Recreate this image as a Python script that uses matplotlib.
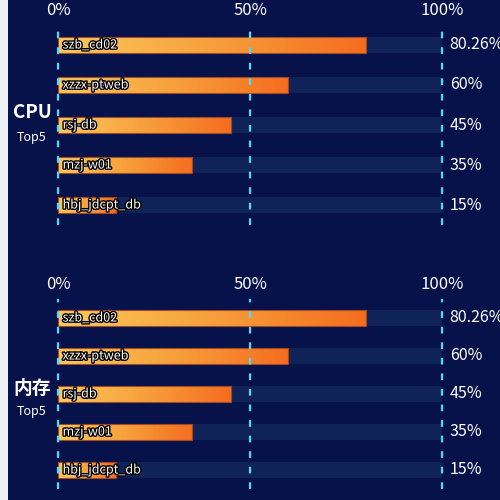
import numpy as np
import matplotlib
matplotlib.use("Agg")
import matplotlib.pyplot as plt
import matplotlib.patheffects as pe
from matplotlib.patches import Rectangle

plt.rcParams['font.family'] = ['Noto Sans CJK SC', 'DejaVu Sans']

# ---------------------------------------------------------------------------
# Data
# ---------------------------------------------------------------------------
hosts = ["szb_cd02", "xzzx-ptweb", "rsj-db", "mzj-w01", "hbj_jdcpt_db"]
cpu_values = [80.26, 60, 45, 35, 15]
mem_values = [80.26, 60, 45, 35, 15]
tick_values = [0, 50, 100]
tick_labels = ["0%", "50%", "100%"]

BG = "#08124a"
TRACK = "#0f2358"
GRID = "#4fdaf7"
TEXT = "#ffffff"

fig = plt.figure(figsize=(5, 5), dpi=100, facecolor=BG)
# light strip on the left edge
fig.patches.append(Rectangle((0, 0), 8 / 500, 1, transform=fig.transFigure,
                             facecolor="#eef1f6", edgecolor="none"))

grad = np.linspace(0, 1, 256).reshape(1, -1)
cmap = matplotlib.colors.LinearSegmentedColormap.from_list(
    "bar", ["#fcc95c", "#f7a03c", "#f56c1f"])


def draw_panel(rect, values, title, title_y):
    ax = fig.add_axes(rect)
    ax.set_facecolor("none")
    h = 0.4
    for i, (name, v) in enumerate(zip(hosts, values)):
        ax.add_patch(Rectangle((0, i - h / 2), 100, h, facecolor=TRACK,
                               edgecolor="none", zorder=1))
        ax.imshow(grad, cmap=cmap, aspect="auto", zorder=2,
                  extent=(0, v, i + h / 2, i - h / 2))
        ax.add_patch(Rectangle((0, i - h / 2), v, h, facecolor="none",
                               edgecolor="#9c4a28", linewidth=0.8, zorder=3))
        ax.text(1.2, i, name, color=TEXT, fontsize=9, va="center", ha="left",
                zorder=5, path_effects=[pe.withStroke(linewidth=2, foreground="black")])
        ax.text(102, i, f"{v:g}%", color=TEXT, fontsize=11.5, va="center",
                ha="left", clip_on=False)
    for t in tick_values:
        ax.axvline(t, color=GRID, linewidth=1.6, linestyle=(0, (3.0, 4.0)),
                   zorder=4, clip_on=False)
    ax.set_xlim(0, 100)
    ax.set_ylim(len(hosts) - 0.5, -0.5)
    ax.set_xticks(tick_values)
    ax.set_xticklabels(tick_labels, color=TEXT, fontsize=12)
    ax.xaxis.tick_top()
    ax.tick_params(axis="x", length=0, pad=4)
    ax.set_yticks([])
    for s in ax.spines.values():
        s.set_visible(False)
    fig.text(32 / 500, 1 - title_y / 500, title, color=TEXT, fontsize=13.5,
             fontweight="bold", ha="center", va="center")
    fig.text(32 / 500, 1 - (title_y + 24) / 500, "Top5", color=TEXT,
             fontsize=9, ha="center", va="center")
    return ax


left = 58 / 500
width = 384 / 500
draw_panel([left, 1 - 225 / 500, width, 200 / 500], cpu_values, "CPU", 113)
draw_panel([left, 1 - 489 / 500, width, 190 / 500], mem_values, "内存", 388)

fig.savefig("out.png", dpi=100, facecolor=fig.get_facecolor())
